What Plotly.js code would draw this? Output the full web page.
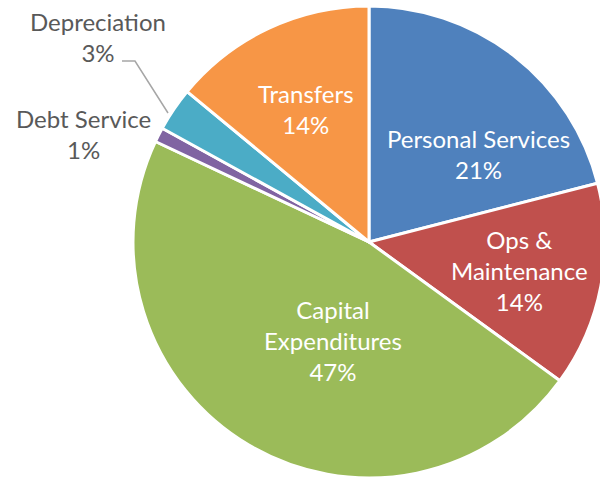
<!DOCTYPE html>
<html>
<head>
<meta charset="utf-8">
<script src="https://cdn.plot.ly/plotly-3.0.1.min.js"></script>
<style>
html, body { margin: 0; padding: 0; overflow: hidden; background: #fff; }
#chart { width: 610px; height: 481px; }
</style>
</head>
<body>
<div id="chart"></div>
<script>
// Data
const categories = ["Personal Services", "Ops & Maintenance", "Capital Expenditures", "Debt Service", "Depreciation", "Transfers"];
const values = [21, 14, 47, 1, 3, 14];
const labelLines = ["Personal Services", "Ops &<br>Maintenance", "Capital<br>Expenditures", "Debt Service", "Depreciation", "Transfers"];
const colors = ["#4F81BD", "#C0504D", "#9BBB59", "#8064A2", "#4BACC6", "#F79646"];

const W = 610, H = 481;
const px = x => x / W;
const py = y => 1 - y / H;

const total = values.reduce((a, b) => a + b, 0);
const pct = v => Math.round(v / total * 100) + "%";

// label anchor positions (pixel, page coords) and colours
const labelPos = [
  {x: 478, y: 154, c: "#ffffff"},
  {x: 519, y: 270, c: "#ffffff"},
  {x: 333, y: 340, c: "#ffffff"},
  {x: 83,  y: 134, c: "#595959"},
  {x: 98,  y: 37,  c: "#595959"},
  {x: 306, y: 109, c: "#ffffff"}
];

const FONT = "Lato, 'Open Sans', sans-serif";

const annotations = categories.map((c, i) => ({
  xref: "paper", yref: "paper",
  x: px(labelPos[i].x), y: py(labelPos[i].y),
  xanchor: "center", yanchor: "middle",
  text: labelLines[i] + "<br>" + pct(values[i]),
  showarrow: false,
  align: "center",
  font: {family: FONT, size: 24, color: labelPos[i].c}
}));

const data = [{
  type: "pie",
  labels: categories,
  values: values,
  sort: false,
  direction: "clockwise",
  rotation: 0,
  marker: {colors: colors, line: {color: "#ffffff", width: 3}},
  textinfo: "none",
  hoverinfo: "label+percent",
  showlegend: false,
  domain: {x: [133 / W, 605 / W], y: [(H - 478) / H, (H - 6) / H]}
}];

const layout = {
  width: W, height: H,
  margin: {l: 0, r: 0, t: 0, b: 0},
  paper_bgcolor: "#ffffff",
  showlegend: false,
  annotations: annotations,
  shapes: [{
    type: "path", xref: "paper", yref: "paper",
    path: `M ${px(122)},${py(61)} L ${px(135)},${py(61)} L ${px(168)},${py(113)}`,
    line: {color: "#A6A6A6", width: 1.5}
  }]
};

Plotly.newPlot("chart", data, layout, {displayModeBar: false, staticPlot: true});
</script>
</body>
</html>
